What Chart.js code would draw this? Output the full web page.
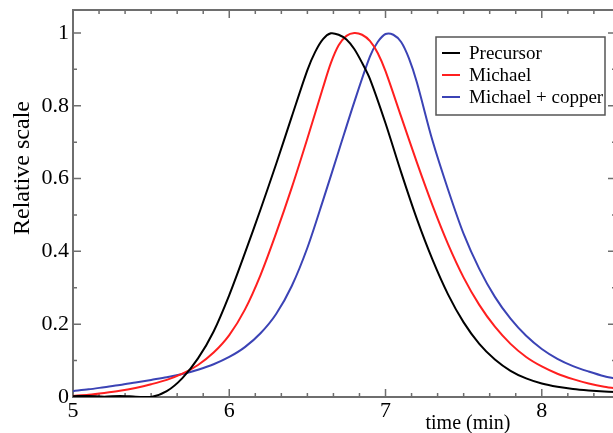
<!DOCTYPE html>
<html>
<head>
<meta charset="utf-8">
<script src="https://cdn.jsdelivr.net/npm/chart.js@4.4.1/dist/chart.umd.min.js"></script>
<style>
  html, body { margin: 0; padding: 0; background: #fff; overflow: hidden; }
  canvas { display: block; }
</style>
</head>
<body>
<canvas id="chart" width="616" height="433"></canvas>
<script>
const seriesNames = ["Precursor", "Michael", "Michael + copper"];

const precursorTime  = [5.0, 5.1, 5.2, 5.3, 5.4, 5.5, 5.6, 5.7, 5.8, 5.9, 6.0, 6.1, 6.2, 6.3, 6.4, 6.5, 6.55, 6.6, 6.65, 6.7, 6.75, 6.8, 6.85, 6.9, 7.0, 7.1, 7.2, 7.3, 7.4, 7.5, 7.6, 7.7, 7.8, 7.9, 8.0, 8.1, 8.2, 8.3, 8.4, 8.5];
const precursorValue = [0.002, 0.003, 0.001, 0.003, 0.001, 0.0, 0.016, 0.052, 0.106, 0.18, 0.28, 0.395, 0.515, 0.64, 0.77, 0.898, 0.948, 0.983, 0.999, 0.995, 0.982, 0.956, 0.918, 0.874, 0.752, 0.617, 0.49, 0.378, 0.282, 0.205, 0.146, 0.103, 0.072, 0.051, 0.037, 0.028, 0.022, 0.018, 0.015, 0.013];

const michaelTime  = [5.0, 5.1, 5.2, 5.3, 5.4, 5.5, 5.6, 5.7, 5.8, 5.9, 6.0, 6.1, 6.2, 6.3, 6.4, 6.5, 6.6, 6.65, 6.7, 6.75, 6.8, 6.85, 6.9, 6.95, 7.0, 7.1, 7.2, 7.3, 7.4, 7.5, 7.6, 7.7, 7.8, 7.9, 8.0, 8.1, 8.2, 8.3, 8.4, 8.5];
const michaelValue = [0.003, 0.006, 0.011, 0.017, 0.025, 0.035, 0.047, 0.064, 0.088, 0.122, 0.17, 0.24, 0.335, 0.45, 0.575, 0.71, 0.85, 0.917, 0.966, 0.992, 1.0, 0.995, 0.978, 0.945, 0.895, 0.77, 0.645, 0.527, 0.42, 0.328, 0.253, 0.193, 0.146, 0.11, 0.084, 0.064, 0.049, 0.037, 0.028, 0.022];

const copperTime  = [5.0, 5.1, 5.2, 5.3, 5.4, 5.5, 5.6, 5.7, 5.8, 5.9, 6.0, 6.1, 6.2, 6.3, 6.4, 6.5, 6.6, 6.7, 6.8, 6.9, 6.95, 7.0, 7.05, 7.1, 7.15, 7.2, 7.3, 7.4, 7.5, 7.6, 7.7, 7.8, 7.9, 8.0, 8.1, 8.2, 8.3, 8.4, 8.5];
const copperValue = [0.016, 0.021, 0.027, 0.033, 0.04, 0.047, 0.054, 0.063, 0.075, 0.09, 0.11, 0.137, 0.175, 0.228, 0.305, 0.41, 0.54, 0.675, 0.81, 0.935, 0.975, 0.997, 0.995, 0.975, 0.93, 0.865, 0.705, 0.57, 0.448, 0.352, 0.275, 0.215, 0.168, 0.132, 0.105, 0.085, 0.07, 0.057, 0.048];

const xTicks = [5, 6, 7, 8];
const xTickLabels = ["5", "6", "7", "8"];
const yTicks = [0, 0.2, 0.4, 0.6, 0.8, 1];
const yTickLabels = ["0", "0.2", "0.4", "0.6", "0.8", "1"];
const xTitle = "time (min)";
const yTitle = "Relative scale";

const serif = "'Liberation Serif', 'DejaVu Serif', serif";
const frameColor = "#6e6e6e";
const colors = ["#000000", "#ff1f1f", "#3b43b5"];

function points(t, v) {
    return t.map((x, i) => ({ x: x, y: v[i] }));
}

// frame with inward ticks on all four sides, like the original plot
const frameTicks = {
    id: "frameTicks",
    beforeDatasetsDraw(chart) {
        const { ctx, chartArea: a, scales: { x, y } } = chart;
        ctx.save();
        ctx.strokeStyle = frameColor;
        ctx.lineWidth = 2;
        ctx.strokeRect(a.left, a.top, a.right - a.left, a.bottom - a.top);
        ctx.lineWidth = 1.5;
        ctx.beginPath();
        for (let k = 0; ; k++) {
            const v = x.min + k / 6;
            if (v > x.max) break;
            const px = x.getPixelForValue(v);
            const len = k % 6 === 0 ? 8 : 4;
            ctx.moveTo(px, a.bottom); ctx.lineTo(px, a.bottom - len);
            ctx.moveTo(px, a.top); ctx.lineTo(px, a.top + len);
        }
        for (let k = 0; k <= 10; k++) {
            const py = y.getPixelForValue(k / 10);
            const len = k % 2 === 0 ? 8 : 4;
            ctx.moveTo(a.left, py); ctx.lineTo(a.left + len, py);
            ctx.moveTo(a.right, py); ctx.lineTo(a.right - len, py);
        }
        ctx.stroke();
        ctx.restore();
    },
    afterDraw(chart) {
        const { ctx } = chart;
        ctx.save();
        ctx.fillStyle = "#000";
        ctx.font = "20px " + serif;
        ctx.textAlign = "center";
        ctx.textBaseline = "middle";
        ctx.fillText(xTitle, 468, 424);

        ctx.translate(23, 168);
        ctx.rotate(-Math.PI / 2);
        ctx.font = "24px " + serif;
        ctx.fillText(yTitle, 0, 0);
        ctx.restore();

        // legend box
        ctx.save();
        ctx.fillStyle = "#fff";
        ctx.fillRect(436, 37, 169, 78);
        ctx.strokeStyle = "#555";
        ctx.lineWidth = 1.5;
        ctx.strokeRect(436, 37, 169, 78);
        ctx.font = "19px " + serif;
        ctx.textBaseline = "middle";
        chart.data.datasets.forEach((ds, i) => {
            const yy = 53 + i * 22;
            ctx.strokeStyle = ds.borderColor;
            ctx.lineWidth = 2;
            ctx.beginPath();
            ctx.moveTo(442, yy); ctx.lineTo(460, yy);
            ctx.stroke();
            ctx.fillStyle = "#000";
            ctx.fillText(ds.label, 469, yy + 1);
        });
        ctx.restore();
    }
};

const ctx = document.getElementById("chart").getContext("2d");
new Chart(ctx, {
    type: "line",
    data: {
        datasets: [
            { label: seriesNames[0], data: points(precursorTime, precursorValue), borderColor: colors[0] },
            { label: seriesNames[1], data: points(michaelTime, michaelValue), borderColor: colors[1] },
            { label: seriesNames[2], data: points(copperTime, copperValue), borderColor: colors[2] }
        ]
    },
    options: {
        responsive: false,
        animation: false,
        layout: { padding: { top: 10, right: 0, left: 0, bottom: 0 } },
        elements: {
            line: { borderWidth: 2, tension: 0.3, fill: false },
            point: { radius: 0 }
        },
        plugins: { legend: { display: false }, tooltip: { enabled: false } },
        scales: {
            x: {
                type: "linear",
                min: 5,
                max: 8.475,
                grid: { display: false, drawTicks: false },
                border: { display: false },
                afterBuildTicks: s => { s.ticks = xTicks.map(v => ({ value: v })); },
                afterFit: s => { s.height = 36; s.paddingLeft = 0; s.paddingRight = 0; },
                ticks: {
                    padding: 1,
                    color: "#000",
                    font: { family: serif, size: 22 },
                    callback: (v) => xTickLabels[xTicks.indexOf(v)]
                }
            },
            y: {
                min: 0,
                max: 1.063,
                grid: { display: false, drawTicks: false },
                border: { display: false },
                afterBuildTicks: s => { s.ticks = yTicks.map(v => ({ value: v })); },
                afterFit: s => { s.width = 73; s.paddingTop = 0; s.paddingBottom = 0; },
                ticks: {
                    padding: 4,
                    color: "#000",
                    font: { family: serif, size: 22 },
                    callback: (v) => yTickLabels[yTicks.indexOf(v)]
                }
            }
        }
    },
    plugins: [frameTicks]
});
</script>
</body>
</html>
